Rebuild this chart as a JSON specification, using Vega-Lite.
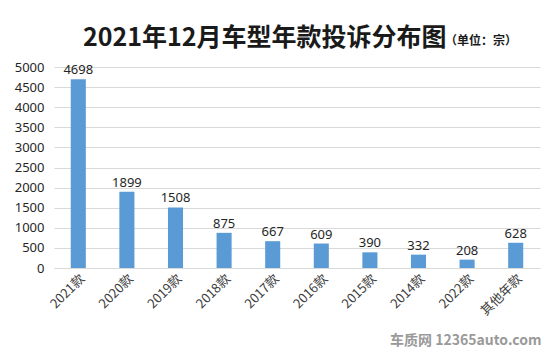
{
  "$schema": "https://vega.github.io/schema/vega-lite/v6.json",
  "autosize": "none",
  "width": 486,
  "height": 201,
  "padding": {"left": 54, "top": 67, "right": 10, "bottom": 85},
  "background": "white",
  "title": {
    "text": "2021年12月车型年款投诉分布图",
    "subtitle": "（单位：宗）",
    "anchor": "start",
    "frame": "group",
    "dx": 29,
    "offset": 10,
    "font": "Noto Sans CJK SC",
    "fontSize": 25,
    "fontWeight": "bold",
    "color": "#1a1a1a",
    "subtitleFont": "Noto Sans CJK SC",
    "subtitleFontSize": 12,
    "subtitleFontWeight": "bold",
    "subtitleColor": "#1a1a1a",
    "encode": {"subtitle": {"update": {"dx": {"value": 391}, "dy": {"value": -18}}}}
  },
  "data": {
    "values": [
      {"model": "2021款", "count": 4698},
      {"model": "2020款", "count": 1899},
      {"model": "2019款", "count": 1508},
      {"model": "2018款", "count": 875},
      {"model": "2017款", "count": 667},
      {"model": "2016款", "count": 609},
      {"model": "2015款", "count": 390},
      {"model": "2014款", "count": 332},
      {"model": "2022款", "count": 208},
      {"model": "其他年款", "count": 628}
    ]
  },
  "encoding": {
    "x": {
      "field": "model",
      "type": "nominal",
      "sort": null,
      "scale": {"paddingInner": 0.69, "paddingOuter": 0.345},
      "axis": {
        "title": "车质网 12365auto.com",
        "titleFont": "Noto Sans CJK SC",
        "titleFontSize": 14,
        "titleFontWeight": "bold",
        "titleColor": "#9a9a9a",
        "titleAlign": "right",
        "titleBaseline": "bottom",
        "titleX": 487,
        "titleY": 79,
        "labelAngle": -45,
        "labelFont": "Noto Sans CJK SC",
        "labelFontSize": 13,
        "labelColor": "#404040",
        "labelPadding": 4,
        "ticks": false,
        "domain": true,
        "domainColor": "#d9d9d9",
        "grid": false
      }
    },
    "y": {
      "field": "count",
      "type": "quantitative",
      "scale": {"domain": [0, 5000]},
      "axis": {
        "title": null,
        "format": "d",
        "values": [0, 500, 1000, 1500, 2000, 2500, 3000, 3500, 4000, 4500, 5000],
        "labelFont": "Noto Sans",
        "labelFontSize": 13,
        "labelColor": "#262626",
        "labelPadding": 10,
        "ticks": false,
        "domain": false,
        "grid": true,
        "gridColor": "#d9d9d9"
      }
    }
  },
  "layer": [
    {"mark": {"type": "bar", "color": "#5B9BD5"}},
    {
      "mark": {"type": "text", "baseline": "alphabetic", "dy": -5, "font": "Noto Sans", "fontSize": 13, "color": "#262626"},
      "encoding": {"text": {"field": "count", "type": "quantitative"}}
    }
  ],
  "config": {"view": {"stroke": null}}
}
